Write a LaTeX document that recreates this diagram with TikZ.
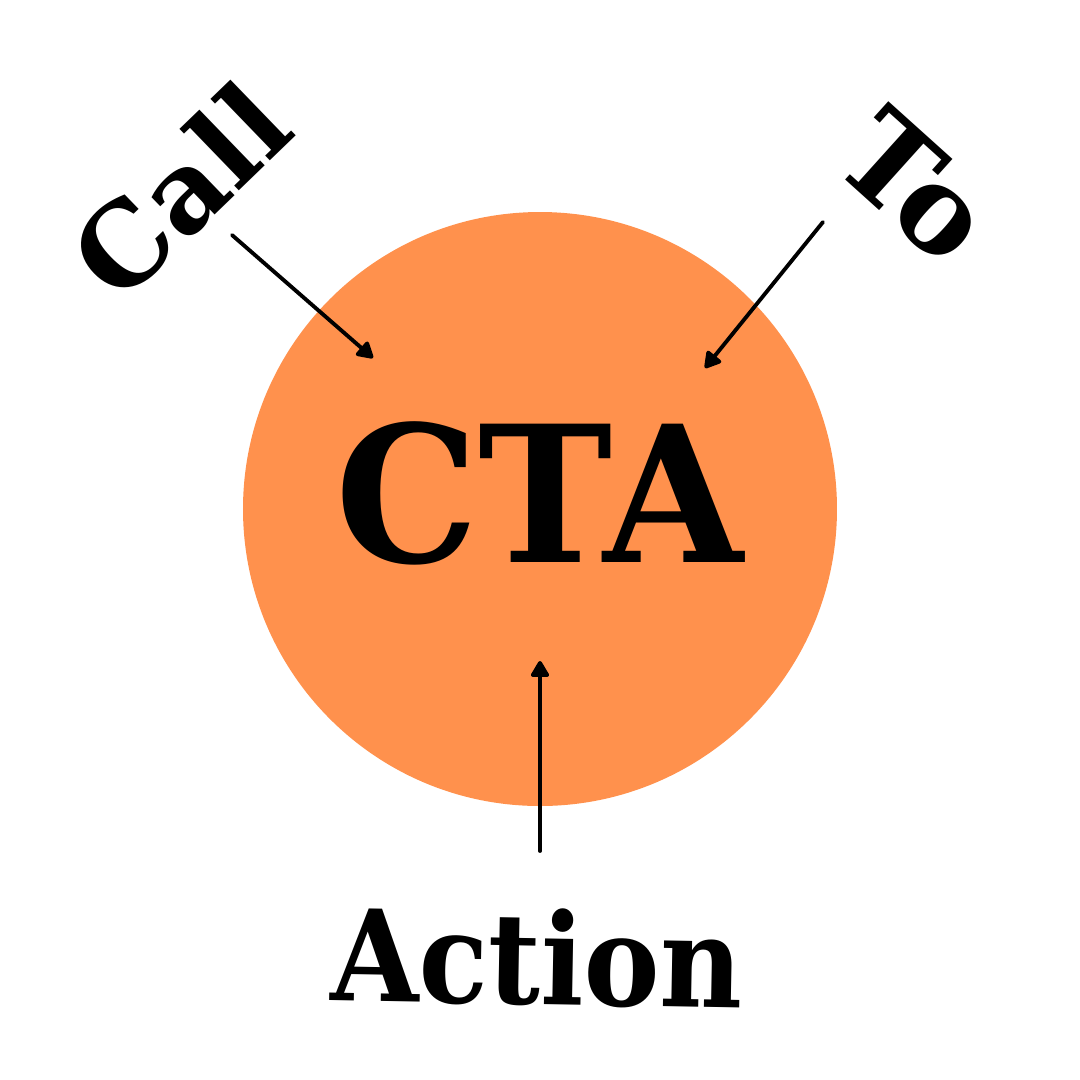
\documentclass[tikz,border=0pt]{standalone}
\usepackage{fontspec}
\setmainfont{DejaVu Serif}
\usetikzlibrary{arrows.meta}
\definecolor{ctaorange}{HTML}{FF914D}
\tikzset{
  lbl/.style={font=\bfseries\fontsize{36}{40}\selectfont, inner sep=0pt, text=black},
  arr/.style={line width=1.1pt, line cap=round, -{Triangle[length=1.8mm,width=2mm,round]}}
}
\begin{document}
\begin{tikzpicture}[x=0.1mm,y=-0.1mm]
\useasboundingbox (0,0) rectangle (1080,1080);
\fill[white] (0,0) rectangle (1080,1080);
\fill[ctaorange] (540,509) circle[radius=297];
\node[lbl, font=\bfseries\fontsize{54}{60}\selectfont, xscale=0.95] (cta) at (539,493) {CTA};
\node[lbl, font=\bfseries\fontsize{32}{36}\selectfont, rotate=44] (call) at (180,190) {Call};
\node[lbl, font=\bfseries\fontsize{34}{38}\selectfont, rotate=-42] (to) at (916,186) {To};
\node[lbl, rotate=-1, xscale=0.9] (action) at (537,957) {Action};
\coordinate (c1s) at (232,235);
\coordinate (c1e) at (373,358);
\coordinate (c2s) at (823,222);
\coordinate (c2e) at (705,368);
\coordinate (c3s) at (540,851);
\coordinate (c3e) at (540,661);
\draw[arr] (c1s) -- (c1e);
\draw[arr] (c2s) -- (c2e);
\draw[arr] (c3s) -- (c3e);
\end{tikzpicture}
\end{document}
